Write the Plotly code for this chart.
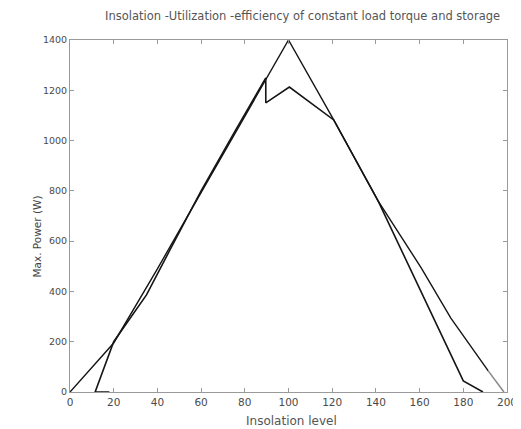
import plotly.graph_objects as go

# Ideal (triangular) max power curve
ideal_x = [0, 20, 40, 60, 80, 100, 120.7, 141, 160.8, 174.3, 191.4]
ideal_y = [0, 195, 490, 795, 1095, 1400, 1082, 760, 493, 294, 84]
ideal_tail_x = [191.4, 198.6]
ideal_tail_y = [84, 0]

# Utilized power curve (constant load torque and storage)
util_x = [18, 11.5, 20, 35, 45.5, 60, 75, 89.6, 89.6, 100.4, 120.7, 141, 180, 189]
util_y = [0, 0, 200, 386, 561, 800, 1030, 1249, 1150, 1213, 1082, 760, 44, 0]

x_ticks = [0, 20, 40, 60, 80, 100, 120, 140, 160, 180, 200]
y_ticks = [0, 200, 400, 600, 800, 1000, 1200, 1400]

title_text = "Insolation -Utilization -efficiency of constant load torque and storage"
x_title = "Insolation level"
y_title = "Max. Power (W)"

fig = go.Figure()
fig.add_trace(go.Scatter(x=ideal_x, y=ideal_y, mode="lines",
                         line=dict(color="#151515", width=1.4), showlegend=False))
fig.add_trace(go.Scatter(x=ideal_tail_x, y=ideal_tail_y, mode="lines",
                         line=dict(color="#8a8a8a", width=1.6), showlegend=False))
fig.add_trace(go.Scatter(x=util_x, y=util_y, mode="lines",
                         line=dict(color="#151515", width=1.6), showlegend=False))

axis_common = dict(showline=True, linecolor="#9a9a9a", linewidth=1, mirror="ticks",
                   ticks="inside", ticklen=4, tickcolor="#9a9a9a", showgrid=False,
                   zeroline=False)

L, R, T, B = 62, 15, 32, 45
W, H = 521, 429
plot_w = W - L - R
plot_h = H - T - B


def px2paper(px, py):
    return (px - L) / plot_w, ((H - py) - B) / plot_h


tx, ty = px2paper(298, 8)
xx, xy = px2paper(287, 413)
yx, yy = px2paper(28, 229)

fig.update_layout(
    width=W, height=H,
    margin=dict(l=L, r=R, t=T, b=B),
    paper_bgcolor="white", plot_bgcolor="white",
    xaxis=dict(range=[0, 200], tickvals=x_ticks,
               tickfont=dict(family="DejaVu Sans", size=10.5, color="#4a4a4a"), **axis_common),
    yaxis=dict(range=[0, 1400], tickvals=y_ticks, ticklabelstandoff=0,
               tickfont=dict(family="DejaVu Sans", size=9.5, color="#4a4a4a"), **axis_common),
    annotations=[
        dict(text=title_text, x=tx, y=ty, xref="paper", yref="paper", showarrow=False,
             xanchor="center", yanchor="middle",
             font=dict(family="DejaVu Sans", size=11.5, color="#555555")),
        dict(text=x_title, x=xx, y=xy, xref="paper", yref="paper", showarrow=False,
             xanchor="center", yanchor="middle",
             font=dict(family="DejaVu Sans", size=12, color="#555555")),
        dict(text=y_title, x=yx, y=yy, xref="paper", yref="paper", textangle=-90, showarrow=False,
             xanchor="center", yanchor="middle",
             font=dict(family="DejaVu Sans", size=10.5, color="#444444")),
    ],
)

fig.write_html("out.html")
